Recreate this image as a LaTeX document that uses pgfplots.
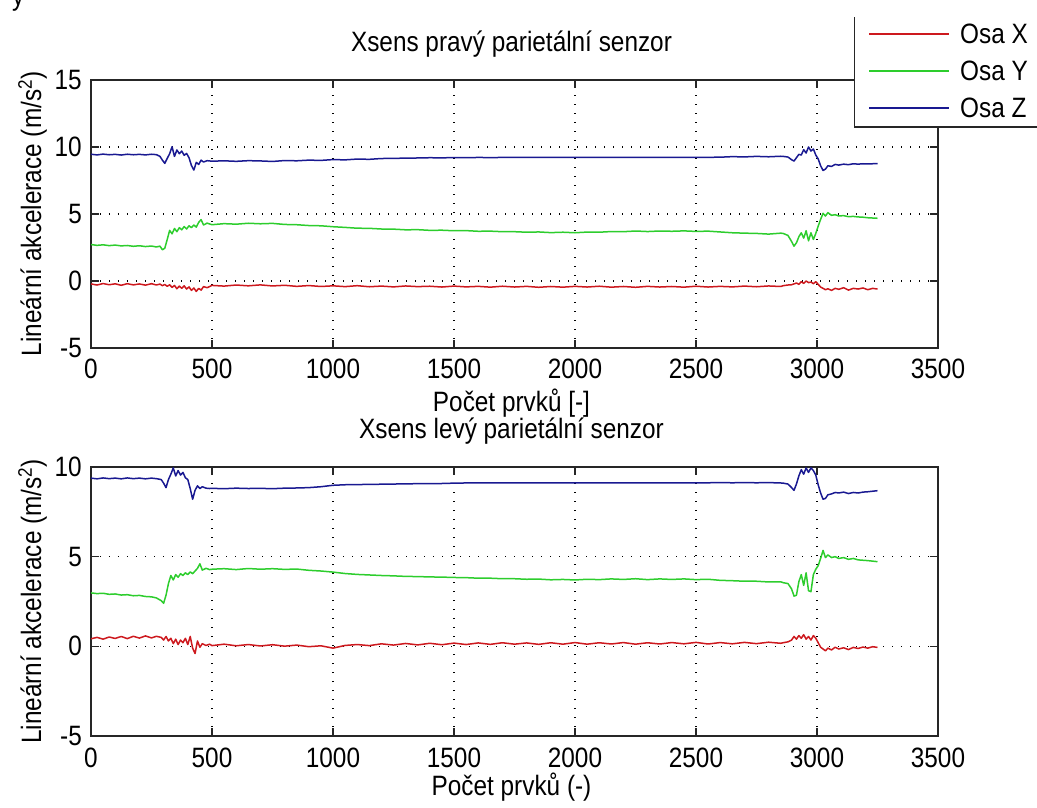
\documentclass[border=0pt]{standalone}
\usepackage{pgfplots}
\pgfplotsset{compat=1.18}
\usepackage{pgfplotstable}
\usepackage{fontspec}
\setmainfont{Liberation Sans}[FakeStretch=0.87]
\newcommand\lab{\fontsize{28}{32}\selectfont}

\definecolor{osax}{RGB}{205,25,30}
\definecolor{osay}{RGB}{45,205,45}
\definecolor{osaz}{RGB}{25,25,145}

% right parietal sensor: sample, X, Y, Z
\pgfplotstableread{
x X Y Z
0 -0.22 2.72 9.46
25 -0.30 2.66 9.41
50 -0.19 2.70 9.47
75 -0.28 2.64 9.42
100 -0.21 2.68 9.45
125 -0.32 2.62 9.40
150 -0.20 2.65 9.46
175 -0.29 2.59 9.42
200 -0.22 2.63 9.45
225 -0.31 2.57 9.41
250 -0.20 2.61 9.46
270 -0.30 2.54 9.43
285 -0.23 2.60 9.30
295 -0.35 2.33 9.02
305 -0.26 2.45 8.78
315 -0.40 3.10 9.15
325 -0.28 3.78 9.50
335 -0.48 3.52 10.02
345 -0.33 3.92 9.30
355 -0.58 3.68 9.78
365 -0.38 3.98 9.50
375 -0.55 3.82 9.70
385 -0.36 4.06 9.38
395 -0.60 3.88 9.52
405 -0.44 4.12 9.20
415 -0.70 3.98 8.62
425 -0.52 4.18 8.28
435 -0.78 4.02 8.85
445 -0.55 4.38 8.70
455 -0.68 4.58 9.02
465 -0.42 4.18 8.88
480 -0.50 4.32 8.98
500 -0.33 4.20 8.94
550 -0.38 4.28 8.97
600 -0.30 4.24 8.93
650 -0.36 4.31 8.98
700 -0.29 4.27 8.96
750 -0.37 4.30 8.92
800 -0.32 4.22 8.99
850 -0.40 4.20 8.97
900 -0.34 4.14 9.02
950 -0.41 4.12 9.00
1000 -0.36 4.05 9.06
1050 -0.42 4.00 9.04
1100 -0.35 3.94 9.10
1150 -0.43 3.93 9.08
1200 -0.38 3.88 9.14
1250 -0.44 3.87 9.15
1300 -0.37 3.82 9.17
1350 -0.42 3.83 9.18
1400 -0.39 3.78 9.20
1450 -0.45 3.79 9.19
1500 -0.38 3.75 9.21
1550 -0.44 3.76 9.20
1600 -0.40 3.71 9.22
1650 -0.46 3.72 9.21
1700 -0.39 3.68 9.22
1750 -0.45 3.68 9.22
1800 -0.40 3.64 9.23
1850 -0.47 3.66 9.22
1900 -0.41 3.61 9.23
1950 -0.46 3.64 9.23
2000 -0.40 3.60 9.23
2050 -0.45 3.65 9.23
2100 -0.39 3.64 9.23
2150 -0.46 3.69 9.23
2200 -0.41 3.68 9.23
2250 -0.47 3.73 9.23
2300 -0.40 3.69 9.23
2350 -0.45 3.73 9.23
2400 -0.41 3.71 9.23
2450 -0.46 3.74 9.23
2500 -0.39 3.70 9.23
2550 -0.45 3.72 9.23
2600 -0.40 3.66 9.24
2650 -0.44 3.60 9.28
2700 -0.38 3.57 9.26
2750 -0.43 3.55 9.30
2800 -0.37 3.50 9.27
2850 -0.41 3.57 9.31
2860 -0.35 3.55 9.30
2880 -0.30 3.40 9.25
2895 -0.28 2.95 9.05
2905 -0.22 2.60 8.95
2915 -0.15 2.85 9.20
2925 -0.25 3.30 9.45
2935 -0.05 3.60 9.40
2945 -0.18 3.20 9.80
2955 0.00 3.75 9.55
2965 -0.12 3.00 10.00
2975 -0.08 3.60 9.70
2985 -0.20 3.10 9.85
2995 -0.05 3.55 9.40
3005 -0.25 4.10 9.10
3015 -0.45 4.60 8.60
3025 -0.55 5.05 8.25
3035 -0.65 4.85 8.35
3045 -0.58 5.10 8.60
3060 -0.70 4.90 8.55
3075 -0.55 4.95 8.70
3090 -0.62 4.85 8.65
3110 -0.50 4.88 8.72
3130 -0.68 4.80 8.68
3150 -0.55 4.82 8.75
3170 -0.60 4.78 8.72
3190 -0.52 4.76 8.75
3210 -0.65 4.72 8.74
3230 -0.55 4.70 8.75
3250 -0.60 4.68 8.75
}\pravy

% left parietal sensor: sample, X, Y, Z
\pgfplotstableread{
x X Y Z
0 0.42 2.98 9.38
25 0.50 2.94 9.34
50 0.40 2.96 9.39
75 0.52 2.90 9.35
100 0.44 2.92 9.38
125 0.55 2.86 9.34
150 0.43 2.88 9.39
175 0.56 2.82 9.35
200 0.46 2.84 9.38
225 0.58 2.78 9.34
250 0.47 2.76 9.38
270 0.56 2.70 9.35
290 0.50 2.55 9.30
300 0.35 2.40 9.10
310 0.55 2.85 8.85
320 0.30 3.50 9.30
330 0.45 3.95 9.60
340 0.15 3.70 9.95
350 0.40 4.00 9.50
360 0.10 3.85 9.80
370 0.35 4.05 9.55
380 0.20 3.95 9.70
390 0.45 4.10 9.40
400 0.10 4.00 9.30
410 0.55 4.15 8.80
420 -0.10 4.05 8.20
430 -0.40 4.20 8.70
440 0.30 4.35 8.95
450 -0.05 4.60 8.80
460 0.15 4.25 8.90
475 0.05 4.35 8.82
490 0.12 4.28 8.80
500 0.04 4.30 8.81
550 0.12 4.33 8.79
600 0.03 4.28 8.82
650 0.10 4.34 8.80
700 0.02 4.30 8.81
750 0.09 4.33 8.79
800 0.01 4.29 8.82
850 0.07 4.31 8.83
900 -0.02 4.24 8.85
950 0.03 4.20 8.90
1000 -0.10 4.14 8.98
1050 0.05 4.06 9.01
1100 0.10 4.01 9.02
1150 0.04 3.98 9.03
1200 0.14 3.95 9.04
1250 0.07 3.93 9.05
1300 0.16 3.90 9.06
1350 0.08 3.89 9.07
1400 0.17 3.87 9.07
1450 0.09 3.86 9.08
1500 0.18 3.84 9.10
1550 0.10 3.83 9.11
1600 0.19 3.80 9.11
1650 0.11 3.80 9.12
1700 0.20 3.77 9.12
1750 0.12 3.77 9.12
1800 0.19 3.74 9.12
1850 0.11 3.75 9.12
1900 0.20 3.71 9.12
1950 0.12 3.73 9.12
2000 0.21 3.70 9.12
2050 0.12 3.74 9.12
2100 0.20 3.72 9.11
2150 0.13 3.76 9.12
2200 0.21 3.73 9.12
2250 0.12 3.77 9.12
2300 0.20 3.72 9.11
2350 0.13 3.76 9.12
2400 0.21 3.73 9.12
2450 0.14 3.76 9.12
2500 0.22 3.72 9.12
2550 0.13 3.74 9.12
2600 0.21 3.68 9.13
2650 0.14 3.66 9.12
2700 0.22 3.63 9.13
2750 0.15 3.63 9.12
2800 0.23 3.59 9.13
2850 0.17 3.60 9.11
2860 0.20 3.55 9.10
2880 0.25 3.50 9.05
2895 0.35 3.20 8.85
2905 0.55 2.80 8.70
2915 0.40 2.85 9.05
2925 0.60 3.60 9.50
2935 0.45 4.00 9.85
2945 0.65 3.40 9.60
2955 0.40 4.10 9.95
2965 0.55 3.10 9.70
2975 0.35 3.05 9.95
2985 0.60 4.00 9.80
2995 0.45 4.30 9.55
3005 0.20 4.50 9.00
3015 -0.05 4.90 8.55
3025 -0.15 5.35 8.20
3035 -0.25 4.95 8.25
3045 -0.10 5.10 8.45
3060 -0.20 4.95 8.50
3075 -0.05 5.00 8.58
3090 -0.15 4.90 8.55
3110 -0.08 4.95 8.60
3130 -0.18 4.85 8.52
3150 -0.06 4.90 8.58
3170 -0.12 4.82 8.55
3190 -0.04 4.80 8.60
3210 -0.10 4.78 8.62
3230 -0.02 4.75 8.65
3250 -0.06 4.72 8.68
}\levy

\pgfplotsset{
  panel/.style={
    scale only axis, width=847pt,
    xmin=0, xmax=3500,
    xtick={0,500,...,3500},
    xticklabels={0,500,1000,1500,2000,2500,3000,3500},
    tick align=inside, major tick length=8pt,
    axis line style={line width=1.5pt, black!85},
    every tick/.style={line width=1.4pt, black!85},
    grid=major,
    major grid style={black, line width=1.3pt, dash pattern=on 1.3pt off 7.7pt},
    tick label style={font=\lab},
    label style={font=\lab},
    title style={font=\lab},
    xticklabel style={anchor=base, yshift=-31pt, inner sep=0pt},
    yticklabel style={anchor=east, xshift=-9pt, inner sep=0pt},
    ylabel style={at={(axis description cs:-0.059,0.5)}, anchor=base},
    ylabel={Lineární akcelerace (m/s\textsuperscript{2})},
    every axis plot/.append style={line width=1.5pt, line join=round},
  }
}

\begin{document}
\begin{tikzpicture}
\useasboundingbox (0,0) rectangle (1037pt,807pt);

\begin{axis}[panel,
  at={(91pt,459pt)}, anchor=south west, height=268pt,
  ymin=-5, ymax=15, ytick={-5,0,5,10,15}, yticklabels={-5,0,5,10,15},
  title={Xsens pravý parietální senzor},
  title style={at={(axis description cs:0.5,1)}, anchor=base, yshift=22pt, xshift=-3pt},
  xlabel={Počet prvků [-]},
  xlabel style={at={(axis description cs:0.5,0)}, anchor=base, yshift=-64pt, xshift=-3pt},
  legend cell align=left,
  legend style={at={(axis description cs:0.9008,0.8209)}, anchor=south west,
    draw=black!85, line width=1.5pt, fill=white, font=\lab,
    inner xsep=14pt, inner ysep=6pt, row sep=11pt, column sep=8pt,
    nodes={inner sep=2pt, text height=20pt, text depth=2pt}},
  legend image code/.code={\draw[#1, line width=1.5pt] (0pt,0pt) -- (80pt,0pt);},
]
\addplot[osax] table[x=x, y=X] {\pravy};
\addplot[osay] table[x=x, y=Y] {\pravy};
\addplot[osaz] table[x=x, y=Z] {\pravy};
\legend{Osa X, Osa Y, Osa Z}
\end{axis}

\begin{axis}[panel,
  at={(91pt,71pt)}, anchor=south west, height=269pt,
  ymin=-5, ymax=10, ytick={-5,0,5,10}, yticklabels={-5,0,5,10},
  title={Xsens levý parietální senzor},
  title style={at={(axis description cs:0.5,1)}, anchor=base, yshift=23pt, xshift=-3pt},
  xlabel={Počet prvků (-)},
  xlabel style={at={(axis description cs:0.5,0)}, anchor=base, yshift=-59pt, xshift=-3pt},
]
\addplot[osax] table[x=x, y=X] {\levy};
\addplot[osay] table[x=x, y=Y] {\levy};
\addplot[osaz] table[x=x, y=Z] {\levy};
\end{axis}

% page strip above the figure
\fill[white] (0,790pt) rectangle (1037pt,807pt);
\node[anchor=base west, inner sep=0pt, font=\lab] at (12pt,801pt) {y};
\end{tikzpicture}
\end{document}
